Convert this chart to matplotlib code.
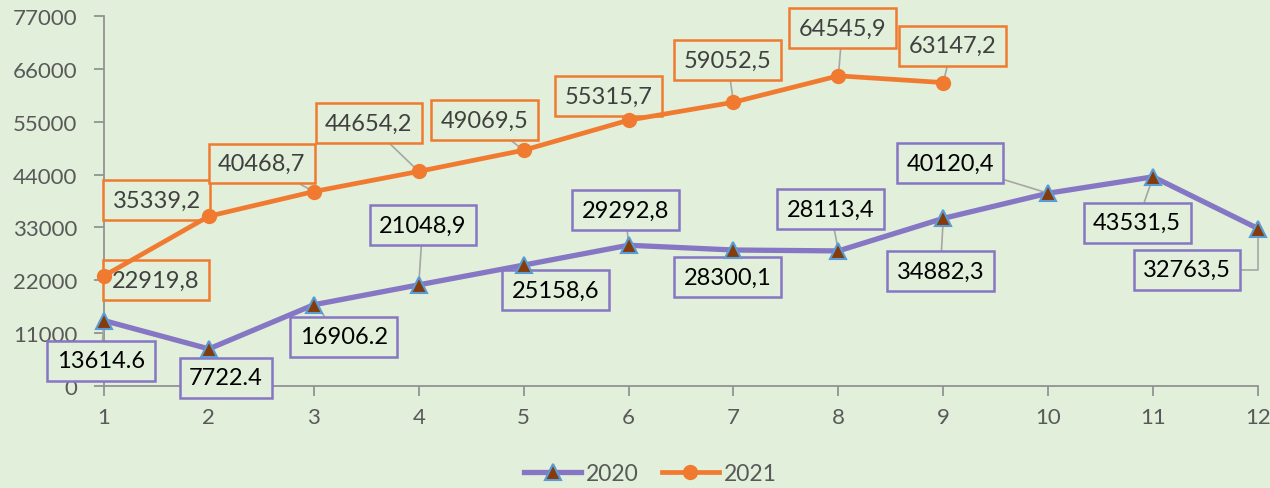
import matplotlib.pyplot as plt
from matplotlib.lines import Line2D

# data
months = list(range(1, 13))
values_2020 = [13614.6, 7722.4, 16906.2, 21048.9, 25158.6, 29292.8,
               28300.1, 28113.4, 34882.3, 40120.4, 43531.5, 32763.5]
labels_2020 = ["13614.6", "7722.4", "16906.2", "21048,9", "25158,6", "29292,8",
               "28300,1", "28113,4", "34882,3", "40120,4", "43531,5", "32763,5"]
values_2021 = [22919.8, 35339.2, 40468.7, 44654.2, 49069.5, 55315.7,
               59052.5, 64545.9, 63147.2]
labels_2021 = ["22919,8", "35339,2", "40468,7", "44654,2", "49069,5", "55315,7",
               "59052,5", "64545,9", "63147,2"]
y_ticks = [0, 11000, 22000, 33000, 44000, 55000, 66000, 77000]

# label box offsets from the point, in pixels
offsets_2020 = [(-3, -40), (17, -29), (30, -32), (4, 60), (32, -25), (-3, 35),
                (-6, -27), (-8, 42), (-3, -53), (-98, 30), (-16, -46), (-71, -41)]
offsets_2021 = [(52, -4), (-52, 16), (-52, 28), (-50, 48), (-39, 30), (-20, 24),
                (-6, 42), (4, 48), (9, 37)]

BG = '#E2EFDA'
PURPLE = '#8677C4'
ORANGE = '#F07B30'
GRID = '#929292'

plt.rcParams['font.family'] = ['Lato', 'DejaVu Sans']

fig = plt.figure(figsize=(12.7, 4.89), dpi=100, facecolor=BG)
ax = fig.add_axes([104 / 1270, 102 / 489, 1154 / 1270, 370 / 489])
ax.set_facecolor(BG)

ax.plot(months, values_2020, color=PURPLE, lw=3.8, marker='^', ms=11,
        markerfacecolor='#843C0C', markeredgecolor='#5B9BD5', markeredgewidth=1.5,
        zorder=5, clip_on=False)
ax.plot(months[:len(values_2021)], values_2021, color=ORANGE, lw=3.4, marker='o',
        ms=10, markerfacecolor=ORANGE, markeredgecolor=ORANGE, zorder=5, clip_on=False)

def add_labels(xs, ys, texts, offsets, edge, tcolor, elbow=()):
    for i, (x, y, t, (dx, dy)) in enumerate(zip(xs, ys, texts, offsets)):
        conn = 'angle,angleA=0,angleB=90,rad=0' if i in elbow else 'arc3'
        ax.annotate(t, (x, y), xytext=(dx, dy), textcoords='offset pixels',
                    ha='center', va='center', fontsize=17, color=tcolor,
                    bbox=dict(boxstyle='square,pad=0.4', fc=BG, ec=edge, lw=1.8),
                    arrowprops=dict(arrowstyle='-', color='#A6A6A6', lw=1.2,
                                    shrinkA=0, shrinkB=4, connectionstyle=conn),
                    zorder=4, annotation_clip=False)

add_labels(months, values_2020, labels_2020, offsets_2020, PURPLE, '#000000',
           elbow=(11,))
add_labels(months, values_2021, labels_2021, offsets_2021, ORANGE, '#404040')

ax.set_xlim(1, 12)
ax.set_ylim(0, 77000)
ax.set_xticks(months)
ax.set_yticks(y_ticks)
ax.tick_params(axis='both', colors=GRID, labelcolor='#595959', labelsize=16,
               length=7, width=1.3)
ax.tick_params(axis='y', pad=12)
ax.tick_params(axis='x', pad=8)
for side in ['top', 'right']:
    ax.spines[side].set_visible(False)
for side in ['left', 'bottom']:
    ax.spines[side].set_color(GRID)
    ax.spines[side].set_linewidth(1.3)

handles = [
    Line2D([], [], color=PURPLE, lw=3.8, marker='^', ms=11, markerfacecolor='#843C0C',
           markeredgecolor='#5B9BD5', markeredgewidth=1.5),
    Line2D([], [], color=ORANGE, lw=3.4, marker='o', ms=10),
]
fig.legend(handles, ['2020', '2021'], loc='lower center', bbox_to_anchor=(0.512, -0.035),
           ncol=2, frameon=False, fontsize=16.5, labelcolor='#595959',
           handlelength=2.5, columnspacing=1.0, handletextpad=0.2)

fig.savefig('out.png', dpi=100, facecolor=BG)
